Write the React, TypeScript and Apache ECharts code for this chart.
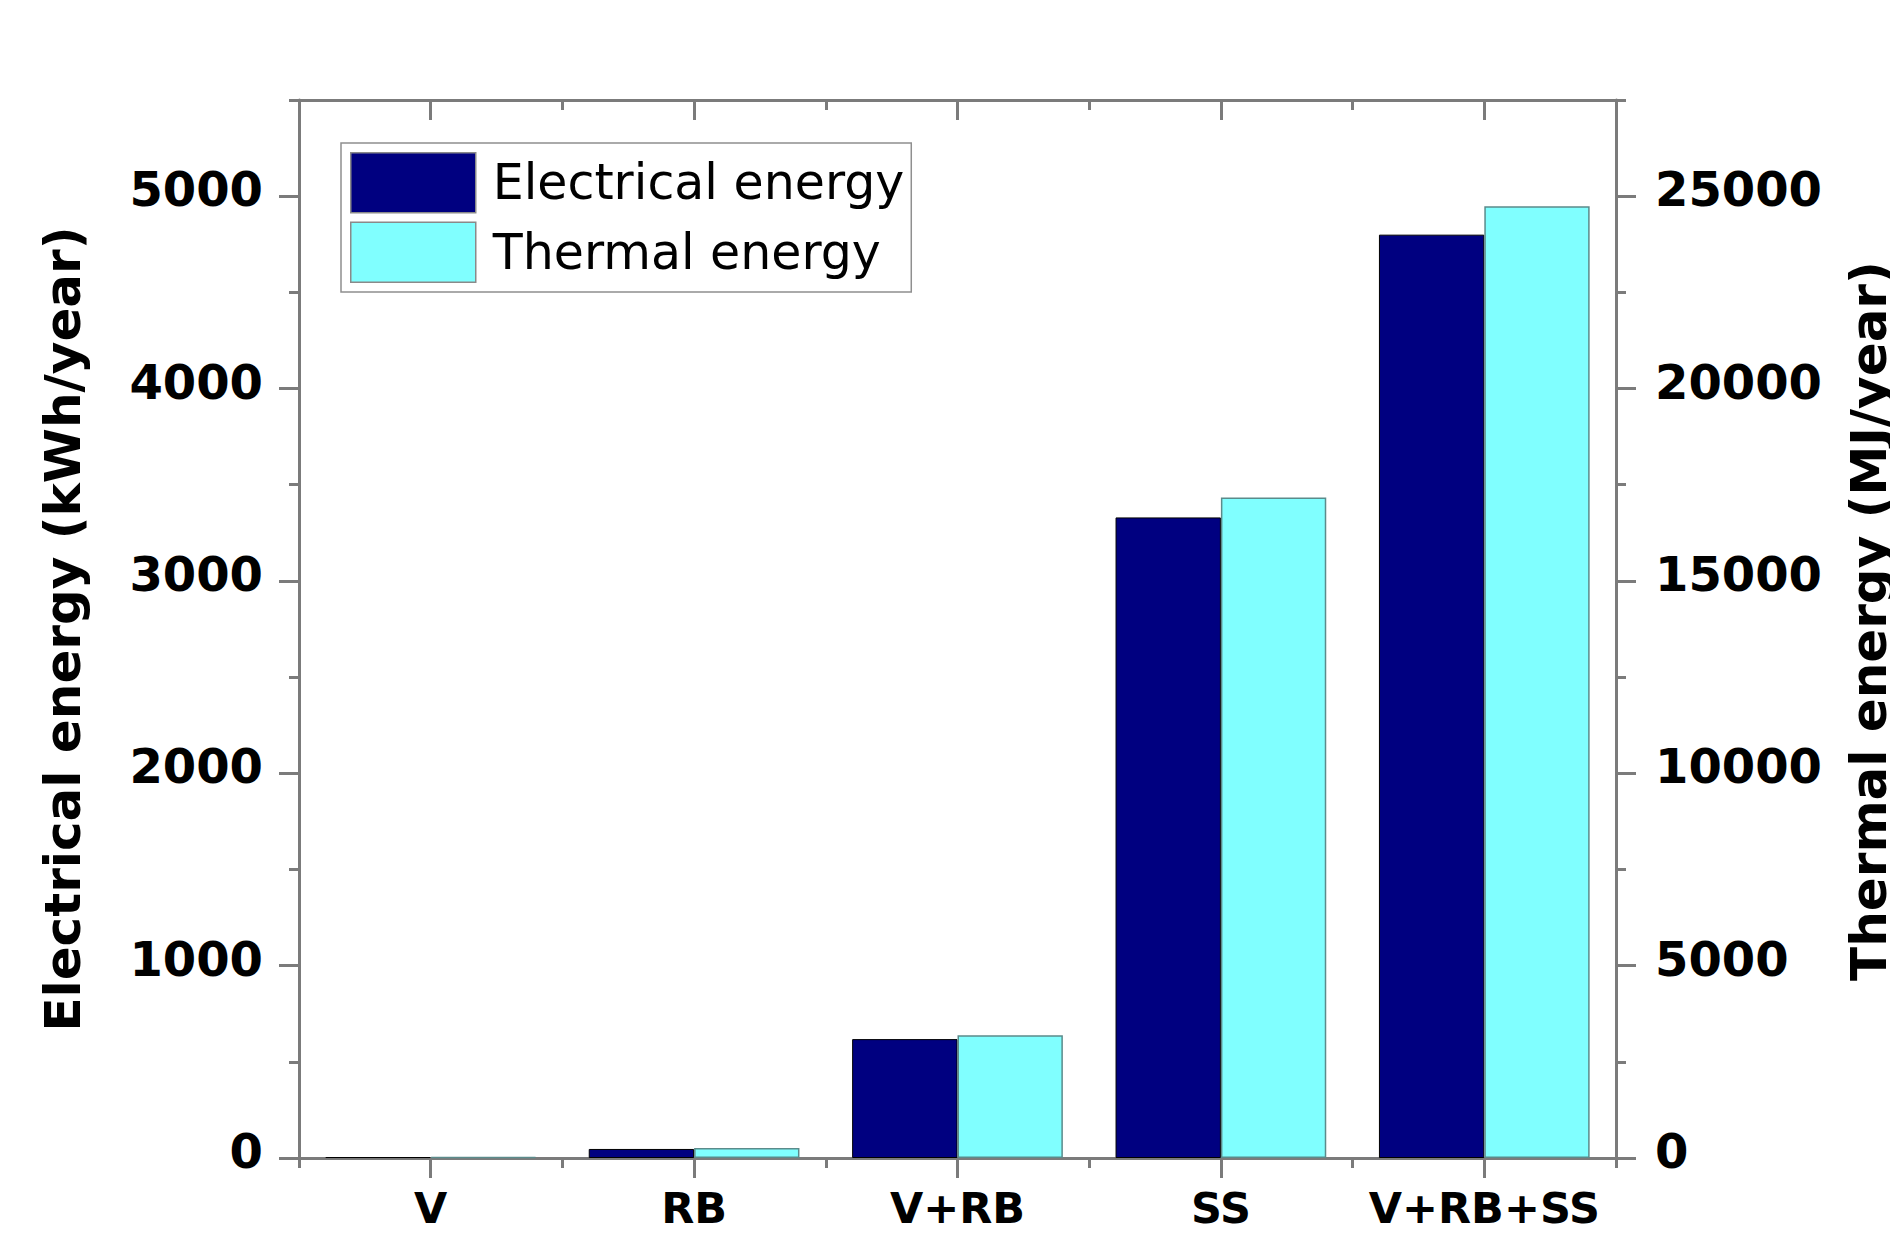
import React, { useEffect, useRef } from "react";
import * as echarts from "echarts";

const categories = ["V", "RB", "V+RB", "SS", "V+RB+SS"];
const electricalEnergy = [5, 47, 618, 3330, 4800]; // kWh/year
const thermalEnergy = [25, 260, 3190, 17170, 24740]; // MJ/year
const leftTickValues = [0, 1000, 2000, 3000, 4000, 5000];
const rightTickValues = [0, 5000, 10000, 15000, 20000, 25000];
const leftMax = 5500;
const rightMax = 27500;
const seriesNames = ["Electrical energy", "Thermal energy"];
const leftTitle = "Electrical energy (kWh/year)";
const rightTitle = "Thermal energy (MJ/year)";

const FONT = "DejaVu Sans";
const axisColor = "#7b7b7b";
const lineStyle = { color: axisColor, width: 3 };

export default function App() {
  const ref = useRef<HTMLDivElement>(null);

  useEffect(() => {
    document.body.style.margin = "0";
    document.body.style.overflow = "hidden";
    const chart = echarts.init(ref.current!, null, { renderer: "svg" });

    const catAxis = (position: string, centers: boolean, inside: boolean, showLine: boolean, showLabel: boolean) => ({
      type: "category",
      data: categories,
      position,
      boundaryGap: true,
      axisLine: { show: showLine, onZero: false, lineStyle },
      axisTick: { show: true, alignWithLabel: centers, inside, length: centers ? 20 : 10, interval: 0, lineStyle },
      axisLabel: showLabel
        ? { show: true, interval: 0, fontSize: 43, fontWeight: "bold", fontFamily: FONT, color: "#000", margin: 28 }
        : { show: false },
      splitLine: { show: false },
    });

    const valAxis = (position: string, max: number, interval: number, major: number[] | null, margin: number) => ({
      type: "value",
      position,
      min: 0,
      max,
      interval,
      axisLine: { show: major !== null, onZero: false, lineStyle },
      axisTick: major
        ? { show: true, length: 20, lineStyle, customValues: major }
        : { show: true, length: 10, lineStyle },
      axisLabel: major
        ? {
            show: true,
            customValues: major,
            formatter: (v: number) => (major.indexOf(v) >= 0 ? String(v) : ""),
            fontSize: 48,
            fontWeight: "bold",
            fontFamily: FONT,
            color: "#000",
            margin,
            verticalAlign: "bottom",
            lineHeight: 14,
          }
        : { show: false },
      splitLine: { show: false },
      minorTick: { show: false },
    });

    chart.setOption({
      animation: false,
      backgroundColor: "#ffffff",
      grid: { left: 299, right: 274, top: 100, bottom: 85, containLabel: false },
      legend: {
        data: seriesNames,
        orient: "vertical",
        left: 341,
        top: 143,
        itemWidth: 125,
        itemHeight: 60,
        itemGap: 8,
        icon: "rect",
        padding: [9, 7, 9, 9],
        borderColor: "#8f8f8f",
        borderWidth: 1.5,
        backgroundColor: "#ffffff",
        itemStyle: { borderColor: "#8a8a8a", borderWidth: 1.5 },
        textStyle: { fontSize: 49, fontFamily: FONT, color: "#000", padding: [0, 0, 0, 12] },
      },
      xAxis: [
        catAxis("bottom", true, false, true, true),
        catAxis("bottom", false, false, false, false),
        catAxis("top", true, true, true, false),
        catAxis("top", false, true, false, false),
      ],
      yAxis: [
        valAxis("left", leftMax, 500, leftTickValues, 36),
        valAxis("left", leftMax, 500, null, 0),
        valAxis("right", rightMax, 2500, rightTickValues, 39),
        valAxis("right", rightMax, 2500, null, 0),
      ],
      series: [
        {
          type: "bar",
          name: seriesNames[0],
          data: electricalEnergy,
          xAxisIndex: 0,
          yAxisIndex: 0,
          barGap: "0%",
          barCategoryGap: "20%",
          itemStyle: { color: "#000080", borderColor: "#000000", borderWidth: 1 },
        },
        {
          type: "bar",
          name: seriesNames[1],
          data: thermalEnergy,
          xAxisIndex: 0,
          yAxisIndex: 2,
          barGap: "0%",
          barCategoryGap: "20%",
          itemStyle: { color: "#80ffff", borderColor: "#5b8b8b", borderWidth: 1.5 },
        },
      ],
      graphic: [
        {
          type: "text",
          x: 63,
          y: 629,
          rotation: Math.PI / 2,
          style: {
            text: leftTitle,
            fontSize: 50,
            fontWeight: "bold",
            fontFamily: FONT,
            fill: "#000",
            align: "center",
            verticalAlign: "middle",
          },
        },
        {
          type: "text",
          x: 1869,
          y: 621,
          rotation: Math.PI / 2,
          style: {
            text: rightTitle,
            fontSize: 50,
            fontWeight: "bold",
            fontFamily: FONT,
            fill: "#000",
            align: "center",
            verticalAlign: "middle",
          },
        },
      ],
    });

    return () => chart.dispose();
  }, []);

  return <div ref={ref} style={{ width: 1890, height: 1243 }} />;
}
